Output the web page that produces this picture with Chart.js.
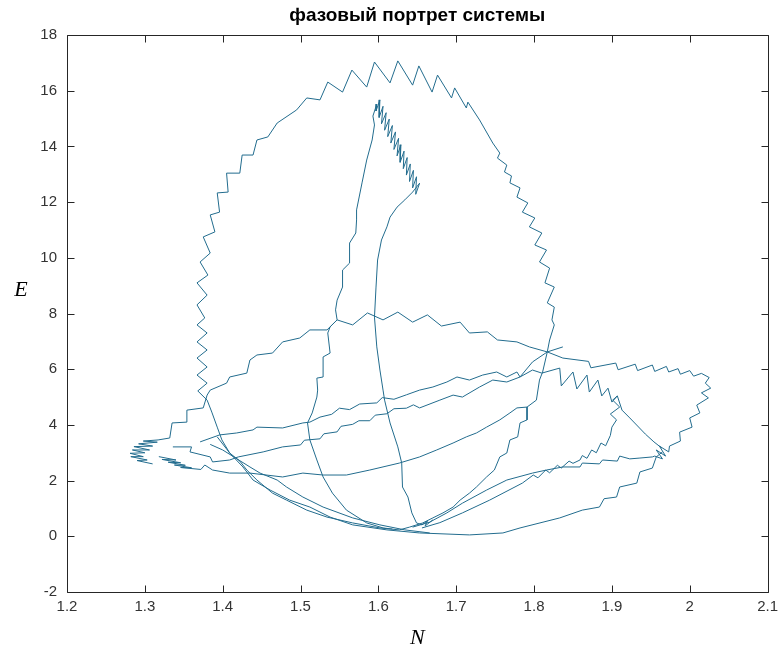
<!DOCTYPE html>
<html>
<head>
<meta charset="utf-8">
<script src="https://cdn.jsdelivr.net/npm/chart.js@4.4.1/dist/chart.umd.min.js"></script>
<style>
  html, body { margin: 0; background: #fff; }
  #wrap { width: 784px; height: 654px; }
</style>
</head>
<body>
<div id="wrap"><canvas id="phase" width="784" height="654"></canvas></div>
<script>
// phase trajectory pieces, each a list of [N, E] points
const leaf = [
  [1.627,0.23],[1.602,0.30],[1.567,0.48],[1.534,0.69],[1.508,0.94],[1.482,1.30],[1.464,1.55],[1.444,2.02],
  [1.431,2.38],[1.422,2.70],[1.409,2.99],[1.399,3.46],[1.393,3.92],[1.386,4.46],[1.380,4.89],[1.368,5.22],
  [1.380,5.50],[1.367,5.79],[1.380,6.08],[1.367,6.40],[1.380,6.69],[1.367,6.98],[1.380,7.30],[1.367,7.59],
  [1.377,7.84],[1.367,8.31],[1.380,8.66],[1.367,9.10],[1.381,9.38],[1.371,9.85],[1.384,10.17],[1.375,10.75],
  [1.390,10.93],[1.384,11.54],[1.396,11.64],[1.393,12.33],[1.407,12.36],[1.405,13.04],[1.422,13.04],[1.425,13.69],
  [1.439,13.69],[1.444,14.23],[1.458,14.34],[1.470,14.84],[1.495,15.31],[1.508,15.74],[1.525,15.67],[1.535,16.31],
  [1.554,15.95],[1.566,16.74],[1.585,16.13],[1.595,17.03],[1.615,16.28],[1.625,17.07],[1.644,16.20],[1.652,16.89],
  [1.669,15.95],[1.676,16.56],[1.694,15.74],[1.698,16.10],[1.713,15.38],[1.715,15.59],[1.730,14.95],[1.747,14.12],
  [1.756,13.76],[1.753,13.58],[1.765,13.33],[1.762,13.08],[1.771,12.94],[1.769,12.69],[1.782,12.51],[1.778,12.18],
  [1.792,11.97],[1.785,11.64],[1.801,11.43],[1.794,11.11],[1.810,10.89],[1.801,10.46],[1.816,10.28],[1.807,9.85],
  [1.820,9.63],[1.814,9.10],[1.826,8.95],[1.817,8.38],[1.826,8.23],[1.823,7.77],[1.826,7.59],[1.820,7.05],
  [1.817,6.62],[1.811,5.90],[1.807,5.61],[1.803,4.89],[1.791,4.64],[1.791,4.18],[1.782,4.07],[1.779,3.57],
  [1.769,3.46],[1.765,2.99],[1.756,2.85],[1.749,2.38],[1.739,2.13],[1.726,1.77],[1.717,1.55],[1.705,1.30],
  [1.696,1.05],[1.683,0.84],[1.670,0.66],[1.657,0.48],[1.640,0.33],[1.627,0.23]
];

const spike = [
  [1.618,0.26],[1.606,0.30],[1.585,0.48],[1.559,0.94],[1.541,1.55],[1.529,2.13],[1.521,2.74],[1.512,3.46],
  [1.509,4.07],[1.515,4.43],[1.521,5.00],[1.522,5.25],[1.521,5.68],[1.529,5.72],[1.529,6.44],[1.538,6.58],
  [1.535,7.30],[1.538,7.52],[1.547,7.77],[1.545,8.13],[1.547,8.48],[1.554,8.95],[1.554,9.56],[1.563,9.81],
  [1.563,10.53],[1.571,10.89],[1.572,11.36],[1.572,11.72],[1.579,12.69],[1.585,13.51],[1.592,14.23],[1.595,14.77],
  [1.593,15.09],[1.598,15.52],
  [1.597,15.27],[1.602,15.67],[1.601,15.04],[1.606,15.44],[1.604,14.81],[1.610,15.21],[1.608,14.58],[1.614,14.98],
  [1.612,14.35],[1.618,14.75],[1.616,14.12],[1.622,14.52],[1.620,13.89],[1.626,14.29],[1.624,13.66],[1.629,14.06],
  [1.628,13.43],[1.633,13.83],[1.632,13.20],[1.637,13.60],[1.636,12.97],[1.641,13.37],[1.640,12.74],[1.645,13.14],
  [1.644,12.51],[1.649,12.91],[1.648,12.28],[1.653,12.68],
  [1.644,12.36],[1.634,12.08],[1.624,11.82],[1.615,11.46],[1.611,11.11],[1.604,10.64],[1.599,9.92],[1.597,8.95],
  [1.595,7.87],[1.598,6.80],[1.602,5.97],[1.606,5.25],[1.608,4.89],[1.615,4.07],[1.625,3.21],[1.630,2.63],
  [1.631,1.77],[1.638,1.41],[1.643,0.84],[1.649,0.48],[1.656,0.41],[1.663,0.55],[1.660,0.37],[1.670,0.59]
];

const fishA = [
  [1.310,2.60],[1.290,2.72],[1.303,2.74],[1.282,2.86],[1.298,2.86],[1.281,2.98],[1.300,3.00],[1.284,3.10],
  [1.306,3.10],[1.286,3.22],[1.310,3.24],[1.292,3.32],[1.316,3.38],[1.298,3.42],[1.317,3.46]
];

const ridge = [
  [1.332,3.53],[1.335,4.07],[1.354,4.10],[1.354,4.53],[1.375,4.61],[1.380,5.07],[1.384,5.25],[1.405,5.50],
  [1.409,5.72],[1.431,5.86],[1.435,6.33],[1.444,6.51],[1.464,6.58],[1.477,6.98],[1.499,7.12],[1.512,7.41],
  [1.534,7.41],[1.547,7.77],[1.567,7.59],[1.586,8.02],[1.606,7.77],[1.625,8.05],[1.644,7.69],[1.663,7.95],
  [1.681,7.55],[1.705,7.69],[1.717,7.30],[1.740,7.34],[1.753,7.05],[1.778,6.98],[1.794,6.80],[1.817,6.62],
  [1.837,6.40],[1.870,6.28],[1.873,6.05],[1.905,6.22],[1.908,5.98],[1.930,6.18],[1.933,5.95],[1.952,6.15],
  [1.955,5.92],[1.970,6.10],[1.973,5.90],[1.985,6.02],[1.988,5.82],[2.000,5.95],[2.005,5.75],[2.015,5.85],
  [2.025,5.70]
];

const rim = [
  [2.020,5.50],[2.027,5.32],[2.015,5.15],[2.024,4.97],[2.009,4.71],[2.013,4.43],[2.000,4.25],[2.003,3.92],
  [1.987,3.74],[1.988,3.42],[1.974,3.24],[1.973,3.03],[1.961,3.24],[1.969,2.88],[1.957,3.10],[1.965,2.78],
  [1.955,2.88],[1.952,2.85],[1.936,2.81],[1.923,2.78],[1.910,2.88],[1.907,2.70],[1.888,2.74],[1.884,2.60],
  [1.862,2.63],[1.859,2.49],[1.837,2.49],[1.816,2.38],[1.798,2.27],[1.765,2.02],[1.739,1.66],[1.708,1.19],
  [1.688,0.84],[1.666,0.51],[1.644,0.33]
];

const mid = [
  [1.336,3.21],[1.360,3.21],[1.358,3.03],[1.384,2.85],[1.387,2.67],[1.409,2.74],[1.420,2.85],[1.452,3.03],
  [1.477,3.21],[1.500,3.28],[1.505,3.45],[1.525,3.50],[1.530,3.68],[1.547,3.75],[1.552,3.95],[1.567,4.02],
  [1.575,4.15],[1.589,4.15],[1.596,4.35],[1.611,4.40],[1.620,4.58],[1.636,4.60],[1.645,4.72],[1.653,4.61],
  [1.679,4.89],[1.696,5.07],[1.708,5.00],[1.730,5.36],[1.747,5.61],[1.765,5.54],[1.782,5.72],[1.798,6.26],
  [1.817,6.62],[1.837,6.80]
];

const upper = [
  [1.371,3.39],[1.396,3.64],[1.418,3.71],[1.439,3.82],[1.444,3.92],[1.477,3.89],[1.503,4.07],[1.512,4.10],
  [1.525,4.28],[1.540,4.38],[1.550,4.60],[1.563,4.55],[1.576,4.75],[1.598,4.79],[1.605,4.98],[1.620,4.92],
  [1.636,5.08],[1.653,5.25],[1.670,5.36],[1.688,5.54],[1.701,5.72],[1.717,5.61],[1.734,5.79],[1.752,5.90],
  [1.765,5.72],[1.778,5.90],[1.782,5.72],[1.798,5.97],[1.810,5.86],
  [1.833,6.04],[1.835,5.40],[1.850,5.90],[1.855,5.29],[1.868,5.79],[1.871,5.18],[1.882,5.61],[1.887,5.04],
  [1.895,5.32],[1.900,4.82],[1.907,5.04],[1.913,4.53],[1.923,4.25],[1.933,3.96],[1.943,3.67],[1.954,3.39],
  [1.964,3.17]
];

const ret = [
  [1.656,0.30],[1.679,0.49],[1.708,0.84],[1.743,1.30],[1.785,1.91],[1.799,2.20],[1.805,2.10],[1.815,2.38],
  [1.820,2.28],[1.830,2.55],[1.835,2.45],[1.845,2.70],[1.850,2.62],[1.859,2.74],[1.862,2.90],[1.868,2.80],
  [1.874,3.10],[1.880,3.00],[1.886,3.35],[1.892,3.25],[1.898,3.62],[1.900,3.92],[1.906,4.18],[1.898,4.39],
  [1.910,4.64],[1.901,4.89],[1.907,5.04]
];

const low = [
  [1.318,2.86],[1.340,2.74],[1.322,2.76],[1.346,2.64],[1.330,2.66],[1.352,2.55],[1.338,2.56],[1.360,2.46],
  [1.346,2.47],[1.372,2.40],[1.377,2.56],[1.387,2.38],[1.409,2.27],[1.435,2.27],[1.477,2.13],[1.503,2.27],
  [1.529,2.20],[1.559,2.20],[1.589,2.38],[1.627,2.63],[1.653,2.85],[1.675,3.10],[1.696,3.35],[1.713,3.57],
  [1.726,3.71],[1.739,3.92],[1.756,4.18],[1.769,4.43],[1.778,4.61],[1.791,4.64]
];

const base = [
  [1.393,3.57],[1.409,2.99],[1.426,2.49],[1.439,2.02],[1.461,1.66],[1.486,1.30],[1.512,1.05],[1.538,0.69],
  [1.567,0.41],[1.611,0.23],[1.653,0.12],[1.717,0.05],[1.760,0.12],[1.782,0.30],[1.833,0.66],[1.862,0.94],
  [1.884,1.05],[1.890,1.35],[1.906,1.41],[1.910,1.77],[1.932,1.91],[1.936,2.31],[1.952,2.45],[1.957,2.85],
  [1.965,3.03]
];

const base2 = [
  [1.384,3.30],[1.400,3.10],[1.435,2.49],[1.448,2.27],[1.470,2.02],[1.482,1.77],[1.503,1.41],[1.529,1.05],
  [1.567,0.66],[1.602,0.41],[1.634,0.23],[1.666,0.12]
];

const pieces = [leaf, spike, fishA.concat(ridge, rim), mid, upper, ret, low, base, base2];

const nTicks = [1.2, 1.3, 1.4, 1.5, 1.6, 1.7, 1.8, 1.9, 2, 2.1];
const eTicks = [-2, 0, 2, 4, 6, 8, 10, 12, 14, 16, 18];
const titleText = 'фазовый портрет системы';
const lineColor = 'rgb(34,108,142)';
const axisColor = '#262626';

// box with inward ticks on all four sides, plus title and axis letters
const frame = {
  id: 'frame',
  afterDraw(chart) {
    const { ctx, chartArea: a, scales: { x, y } } = chart;
    const L = Math.round(a.left) + 0.5, R = Math.round(a.right) + 0.5;
    const T = Math.round(a.top) + 0.5, B = Math.round(a.bottom) + 0.5;
    ctx.save();
    ctx.strokeStyle = axisColor;
    ctx.lineWidth = 1;
    ctx.beginPath();
    ctx.rect(L, T, R - L, B - T);
    nTicks.forEach(v => {
      const p = Math.round(x.getPixelForValue(v)) + 0.5;
      ctx.moveTo(p, B); ctx.lineTo(p, B - 7);
      ctx.moveTo(p, T); ctx.lineTo(p, T + 7);
    });
    eTicks.forEach(v => {
      const p = Math.round(y.getPixelForValue(v)) + 0.5;
      ctx.moveTo(L, p); ctx.lineTo(L + 7, p);
      ctx.moveTo(R, p); ctx.lineTo(R - 7, p);
    });
    ctx.stroke();

    ctx.fillStyle = '#000';
    ctx.textAlign = 'center';
    ctx.textBaseline = 'middle';
    ctx.font = 'bold 19px "Liberation Sans", Arial, sans-serif';
    ctx.fillText(titleText, (a.left + a.right) / 2, 16);
    ctx.font = 'italic 22px "Liberation Serif", serif';
    ctx.fillText('N', (a.left + a.right) / 2, 638);
    ctx.fillText('E', 21, 290);
    ctx.restore();
  }
};

new Chart(document.getElementById('phase'), {
  type: 'scatter',
  data: {
    datasets: pieces.map(p => ({
      data: p.map(([n, e]) => ({ x: n, y: e })),
      showLine: true,
      borderColor: lineColor,
      borderWidth: 1,
      pointRadius: 0,
      tension: 0,
      fill: false
    }))
  },
  options: {
    responsive: false,
    animation: false,
    events: [],
    layout: { padding: { top: 35, right: 15, left: 0, bottom: 0 } },
    plugins: { legend: { display: false }, tooltip: { enabled: false }, title: { display: false } },
    scales: {
      x: {
        type: 'linear', min: 1.2, max: 2.1,
        afterBuildTicks: s => { s.ticks = nTicks.map(v => ({ value: v })); },
        afterFit: s => { s.height = 62; },
        grid: { display: false, drawTicks: false },
        border: { display: false },
        ticks: {
          padding: 6,
          maxRotation: 0,
          autoSkip: false,
          color: '#333',
          font: { family: '"Liberation Sans", Arial, sans-serif', size: 15 },
          callback: v => String(+v.toFixed(1))
        }
      },
      y: {
        type: 'linear', min: -2, max: 18,
        afterBuildTicks: s => { s.ticks = eTicks.map(v => ({ value: v })); },
        afterFit: s => { s.width = 67; },
        grid: { display: false, drawTicks: false },
        border: { display: false },
        ticks: {
          padding: 10,
          autoSkip: false,
          color: '#333',
          font: { family: '"Liberation Sans", Arial, sans-serif', size: 15 },
          callback: v => String(v)
        }
      }
    }
  },
  plugins: [frame]
});
</script>
</body>
</html>
